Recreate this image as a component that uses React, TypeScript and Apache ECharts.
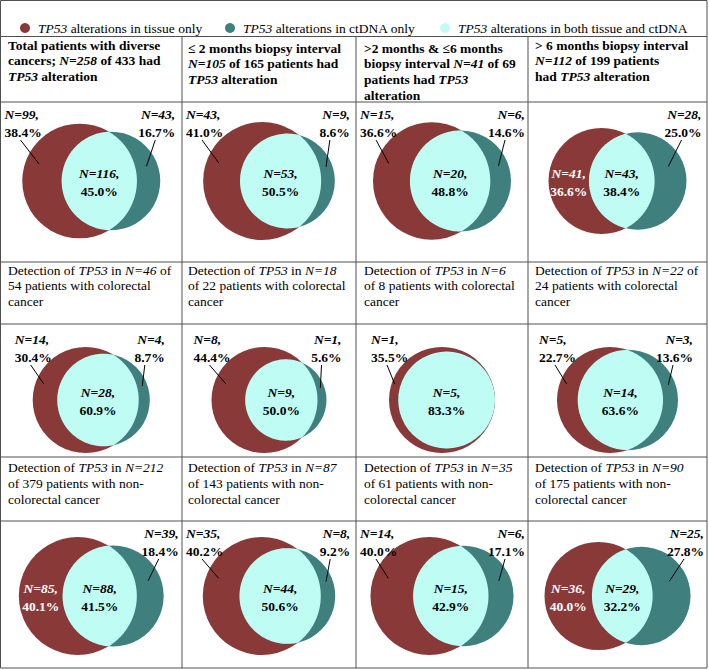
import React, { useEffect, useRef } from 'react';
import * as echarts from 'echarts';

// ---------------- DATA ----------------
const legendLabels = [
  '{i|TP53} alterations in tissue only',
  '{i|TP53} alterations in ctDNA only',
  '{i|TP53} alterations in both tissue and ctDNA',
];
const headerTexts = [
  ['Total patients with diverse', 'cancers; {bi|N=258} of 433 had', '{bi|TP53} alteration'],
  ['≤ 2 months biopsy interval', '{bi|N=105} of 165 patients had', '{bi|TP53} alteration'],
  ['>2 months & ≤6 months', 'biopsy interval {bi|N=41} of 69', 'patients had {bi|TP53}', 'alteration'],
  ['> 6 months biopsy interval', '{bi|N=112} of 199 patients', 'had {bi|TP53} alteration'],
];
const colorectalTexts = [
  ['Detection of {i|TP53} in {i|N=46} of', '54 patients with colorectal', 'cancer'],
  ['Detection of {i|TP53} in {i|N=18}', 'of 22 patients with colorectal', 'cancer'],
  ['Detection of {i|TP53} in {i|N=6}', 'of 8 patients with colorectal', 'cancer'],
  ['Detection of {i|TP53} in {i|N=22} of', '24 patients with colorectal', 'cancer'],
];
const nonColorectalTexts = [
  ['Detection of {i|TP53} in {i|N=212}', 'of 379 patients with non-', 'colorectal cancer'],
  ['Detection of {i|TP53} in {i|N=87}', 'of 143 patients with non-', 'colorectal cancer'],
  ['Detection of {i|TP53} in {i|N=35}', 'of 61 patients with non-', 'colorectal cancer'],
  ['Detection of {i|TP53} in {i|N=90}', 'of 175 patients with non-', 'colorectal cancer'],
];
// panels in row-major order: total / colorectal / non-colorectal x 4 interval groups
const tissueOnly = [99, 43, 15, 41, 14, 8, 1, 5, 85, 35, 14, 36];
const ctdnaOnly = [43, 9, 6, 28, 4, 1, 0, 3, 39, 8, 6, 25];
const bothCount = [116, 53, 20, 43, 28, 9, 5, 14, 88, 44, 15, 29];
const tissuePct = ['38.4%', '41.0%', '36.6%', '36.6%', '30.4%', '44.4%', '35.5%', '22.7%', '40.1%', '40.2%', '40.0%', '40.0%'];
const ctdnaPct = ['16.7%', '8.6%', '14.6%', '25.0%', '8.7%', '5.6%', '', '13.6%', '18.4%', '9.2%', '17.1%', '27.8%'];
const bothPct = ['45.0%', '50.5%', '48.8%', '38.4%', '60.9%', '50.0%', '83.3%', '63.6%', '41.5%', '50.6%', '42.9%', '32.2%'];

// ---------------- LAYOUT / STYLE ----------------
const tissueInside = [false, false, false, true, false, false, false, false, true, false, false, true];
const RED = '#8A3939';
const TEAL = '#3F7F7E';
const CYAN = '#BFFCF4';
const GRID = '#505050';
const FONT = '"Liberation Serif", "Times New Roman", serif';
const FS = 13.5;
const LH = 15.7;

const COL_X = [0.5, 182, 356, 528, 707];
const H_LINES = [36.5, 102, 262, 324, 457, 521];
const BOTTOM = 668;
const VENN_ROWS = [[102, 262], [324, 457], [521, 668]];
const VENN_CY = [181, 400, 596];
const VENN_WMAX = [138, 128, 146];
const VENN_HMAX = [118, 106, 118];
const LABEL_Y = [12, 15, 12];
const LABEL_GAP = 18;
const HEADER_TOP = [37.2, 40.2, 40.2, 37.2];
const SUB_TOP = [262.2, 460];
const TEXT_X = [8, 188, 364, 535];
const LEGEND_DOT_X = [25, 230, 445];
const LEGEND_Y = 28;

// ---------------- GEOMETRY (area-proportional Venn) ----------------
function lensArea(r1: number, r2: number, d: number) {
  if (d >= r1 + r2) return 0;
  if (d <= Math.abs(r1 - r2)) return Math.PI * Math.min(r1, r2) ** 2;
  const a1 = Math.acos((d * d + r1 * r1 - r2 * r2) / (2 * d * r1));
  const a2 = Math.acos((d * d + r2 * r2 - r1 * r1) / (2 * d * r2));
  const k = Math.sqrt((-d + r1 + r2) * (d + r1 - r2) * (d - r1 + r2) * (d + r1 + r2));
  return r1 * r1 * a1 + r2 * r2 * a2 - 0.5 * k;
}
function solveDistance(r1: number, r2: number, target: number) {
  let lo = Math.abs(r1 - r2);
  let hi = r1 + r2;
  if (target >= lensArea(r1, r2, lo) - 1e-9) return lo;
  if (target <= 0) return hi;
  for (let i = 0; i < 80; i++) {
    const m = (lo + hi) / 2;
    if (lensArea(r1, r2, m) > target) lo = m;
    else hi = m;
  }
  return (lo + hi) / 2;
}
const half = (r: number, dy: number) => Math.sqrt(Math.max(0, r * r - dy * dy));

function txt(x: number, y: number, text: string, font: string, fill: string, align: string) {
  return {
    type: 'text',
    x,
    y,
    style: {
      text,
      font,
      fill,
      align,
      verticalAlign: 'middle',
      textAlign: align,
      textVerticalAlign: 'middle',
    },
  };
}
const FONT_NI = `italic bold ${FS}px ${FONT}`;
const FONT_B = `bold ${FS}px ${FONT}`;

const renderVenn = (params: any, api: any) => {
  const i = params.dataIndex;
  let t = Number(api.value(0));
  let c = Number(api.value(1));
  let b = Number(api.value(2));
  if (!Number.isFinite(t)) t = tissueOnly[i];
  if (!Number.isFinite(c)) c = ctdnaOnly[i];
  if (!Number.isFinite(b)) b = bothCount[i];
  const row = Math.floor(i / 4);
  const col = i % 4;
  const x0 = COL_X[col];
  const x1 = COL_X[col + 1];
  const top = VENN_ROWS[row][0];
  const A1 = t + b;
  const A2 = c + b;
  const r1u = Math.sqrt(A1 / Math.PI);
  const r2u = Math.sqrt(A2 / Math.PI);
  const du = solveDistance(r1u, r2u, b);
  const left = Math.min(-r1u, du - r2u);
  const right = Math.max(r1u, du + r2u);
  const s = Math.min(VENN_WMAX[row] / (right - left), VENN_HMAX[row] / (2 * Math.max(r1u, r2u)));
  const ox = (x0 + x1) / 2 - (s * (left + right)) / 2;
  const cy = VENN_CY[row];
  const c1x = ox;
  const c2x = ox + du * s;
  const r1 = r1u * s;
  const r2 = r2u * s;
  const contained = du <= Math.abs(r1u - r2u) + 1e-6;
  const children: any[] = [];
  children.push({ type: 'circle', shape: { cx: c1x, cy, r: r1 }, style: { fill: RED } });
  children.push({ type: 'circle', shape: { cx: c2x, cy, r: r2 }, style: { fill: TEAL } });
  if (contained) {
    const sc = r2 <= r1 ? { cx: c2x, r: r2 } : { cx: c1x, r: r1 };
    children.push({ type: 'circle', shape: { cx: sc.cx, cy, r: sc.r }, style: { fill: CYAN } });
  } else {
    const d = c2x - c1x;
    const a = (d * d + r1 * r1 - r2 * r2) / (2 * d);
    const phi1 = Math.acos(Math.max(-1, Math.min(1, a / r1)));
    const phi2 = Math.acos(Math.max(-1, Math.min(1, (c1x + a - c2x) / r2)));
    const pts: number[][] = [];
    const N = 90;
    for (let k = 0; k <= N; k++) {
      const th = phi2 + ((2 * Math.PI - 2 * phi2) * k) / N;
      pts.push([c2x + r2 * Math.cos(th), cy + r2 * Math.sin(th)]);
    }
    for (let k = 0; k <= N; k++) {
      const th = -phi1 + (2 * phi1 * k) / N;
      pts.push([c1x + r1 * Math.cos(th), cy + r1 * Math.sin(th)]);
    }
    children.push({ type: 'polygon', shape: { points: pts }, style: { fill: CYAN } });
  }
  const redL = (y: number) => c1x - half(r1, y - cy);
  const redR = (y: number) => c1x + half(r1, y - cy);
  const tealL = (y: number) => c2x - half(r2, y - cy);
  const tealR = (y: number) => c2x + half(r2, y - cy);
  const ly1 = top + LABEL_Y[row];
  const ly2 = ly1 + LABEL_GAP;

  // tissue-only label
  if (tissueInside[i]) {
    const tx = (redL(cy) + tealL(cy)) / 2;
    children.push(txt(tx, cy - 8, `N=${t},`, FONT_NI, '#fff', 'center'));
    children.push(txt(tx, cy + 10, tissuePct[i], FONT_B, '#fff', 'center'));
  } else {
    const lx = Math.max(x0 + 4, c1x - r1 - 18);
    children.push(txt(lx, ly1, `N=${t},`, FONT_NI, '#000', 'left'));
    children.push(txt(lx, ly2, tissuePct[i], FONT_B, '#000', 'left'));
    const ey = cy - 0.3 * r1;
    const ex = redL(ey) + 0.35 * (tealL(ey) - redL(ey));
    children.push({ type: 'line', shape: { x1: lx + 16, y1: ly2 + 8, x2: ex, y2: ey }, style: { stroke: '#000', lineWidth: 1 } });
  }
  // ctDNA-only label
  if (c > 0) {
    const rx = Math.min(x1 - 3, c2x + r2 + 15);
    children.push(txt(rx, ly1, `N=${c},`, FONT_NI, '#000', 'right'));
    children.push(txt(rx, ly2, ctdnaPct[i], FONT_B, '#000', 'right'));
    const ey = cy - 0.3 * r2;
    const ex = redR(ey) + 0.5 * (tealR(ey) - redR(ey));
    children.push({ type: 'line', shape: { x1: rx - 20, y1: ly2 + 8, x2: ex, y2: ey }, style: { stroke: '#000', lineWidth: 1 } });
  }
  // both label
  const bx = contained ? (r2 <= r1 ? c2x : c1x) : (tealL(cy) + redR(cy)) / 2;
  children.push(txt(bx, cy - 8, `N=${b},`, FONT_NI, '#000', 'center'));
  children.push(txt(bx, cy + 10, bothPct[i], FONT_B, '#000', 'center'));

  return { type: 'group', children };
};

// ---------------- STATIC TABLE / TEXT ----------------
const richTok = (style: string, weight: string) => ({
  fontStyle: style,
  fontWeight: weight,
  fontSize: FS,
  fontFamily: FONT,
  lineHeight: LH,
  fill: '#000',
});

function buildGraphic() {
  const els: any[] = [];
  els.push({
    type: 'rect',
    shape: { x: 0.5, y: 0.5, width: 706.5, height: BOTTOM - 0.5 },
    style: { fill: 'none', stroke: GRID, lineWidth: 1 },
  });
  H_LINES.forEach((y) =>
    els.push({ type: 'line', shape: { x1: 0.5, y1: y, x2: 707, y2: y }, style: { stroke: GRID, lineWidth: 1 } })
  );
  COL_X.slice(1, 4).forEach((x) =>
    els.push({ type: 'line', shape: { x1: x, y1: H_LINES[0], x2: x, y2: BOTTOM }, style: { stroke: GRID, lineWidth: 1 } })
  );
  const legendColors = [RED, TEAL, CYAN];
  legendLabels.forEach((lab, k) => {
    els.push({ type: 'circle', shape: { cx: LEGEND_DOT_X[k], cy: LEGEND_Y, r: 5 }, style: { fill: legendColors[k] } });
    els.push({
      type: 'text',
      x: LEGEND_DOT_X[k] + 13,
      y: LEGEND_Y,
      style: {
        text: lab,
        fontSize: FS,
        fontFamily: FONT,
        fontWeight: 'normal',
        fill: '#000',
        lineHeight: LH,
        textVerticalAlign: 'middle',
        verticalAlign: 'middle',
        rich: { i: richTok('italic', 'normal') },
      },
    });
  });
  headerTexts.forEach((lines, k) => {
    els.push({
      type: 'text',
      x: TEXT_X[k],
      y: HEADER_TOP[k],
      style: {
        text: lines.join('\n'),
        fontSize: FS,
        fontFamily: FONT,
        fontWeight: 'bold',
        fill: '#000',
        lineHeight: LH,
        textVerticalAlign: 'top',
        verticalAlign: 'top',
        rich: { bi: richTok('italic', 'bold') },
      },
    });
  });
  [colorectalTexts, nonColorectalTexts].forEach((group, r) => {
    group.forEach((lines, k) => {
      els.push({
        type: 'text',
        x: TEXT_X[k],
        y: SUB_TOP[r],
        style: {
          text: lines.join('\n'),
          fontSize: FS,
          fontFamily: FONT,
          fontWeight: 'normal',
          fill: '#000',
          lineHeight: LH,
          textVerticalAlign: 'top',
          verticalAlign: 'top',
          rich: { i: richTok('italic', 'normal') },
        },
      });
    });
  });
  return els;
}

export default function App() {
  const ref = useRef<HTMLDivElement>(null);
  useEffect(() => {
    document.body.style.margin = '0';
    const chart = echarts.init(ref.current!, null, { renderer: 'svg' });
    chart.setOption({
      animation: false,
      backgroundColor: '#ffffff',
      graphic: { elements: buildGraphic() },
      series: [
        {
          type: 'custom',
          coordinateSystem: 'none',
          silent: true,
          dimensions: ['tissue', 'ctdna', 'both'],
          renderItem: renderVenn,
          data: tissueOnly.map((t, i) => [t, ctdnaOnly[i], bothCount[i]]),
        },
      ],
    });
    return () => chart.dispose();
  }, []);
  return <div ref={ref} style={{ width: 709, height: 670 }} />;
}
